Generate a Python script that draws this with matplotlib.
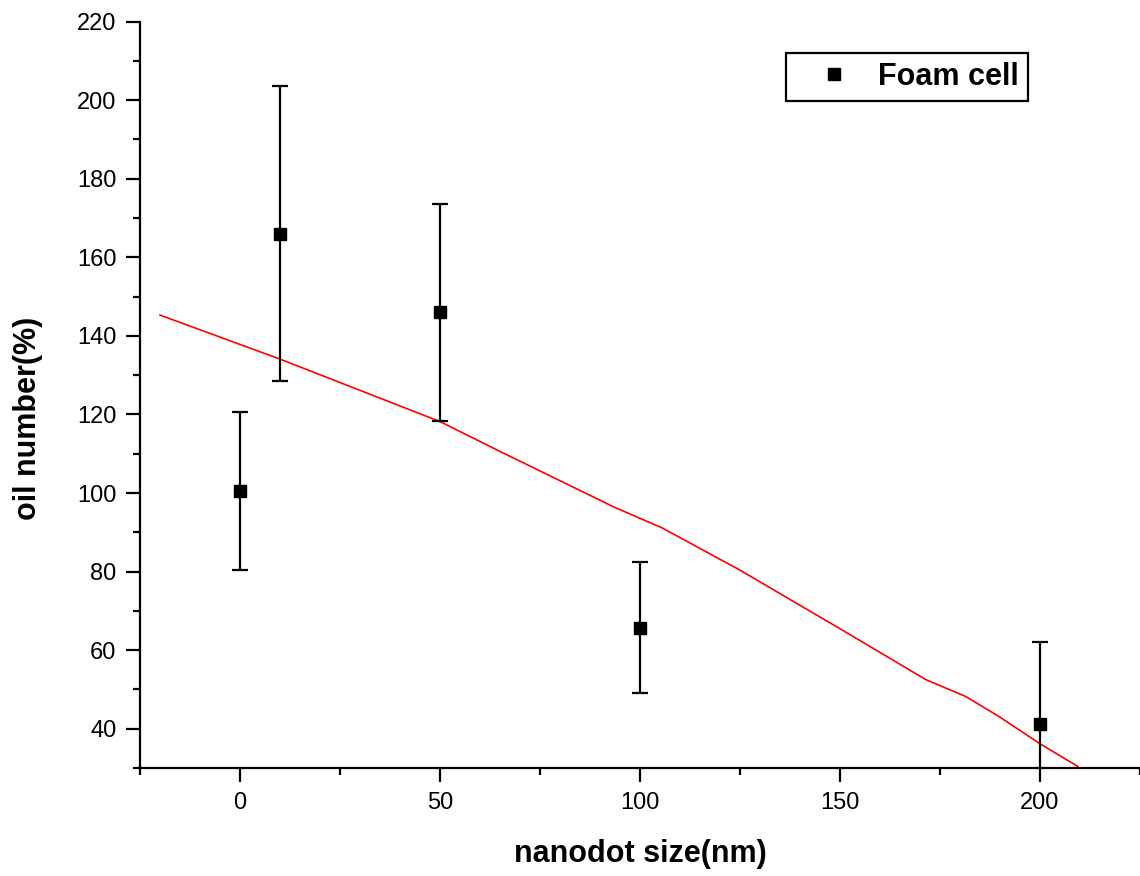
import matplotlib.pyplot as plt
from matplotlib.lines import Line2D
from matplotlib.ticker import MultipleLocator

plt.rcParams['font.family'] = ['Liberation Sans', 'DejaVu Sans']

# measured points (nanodot size, oil number, error)
size_nm = [0, 10, 50, 100, 200]
oil_num = [100.5, 166.0, 146.0, 65.7, 41.2]
oil_err = [20.0, 37.5, 27.6, 16.7, 21.0]

# fitted red curve
fit_x = [-20, 10, 50, 65, 93.6, 105.6, 124.8, 149.8, 171.5, 181.5, 189.8, 200, 209.5]
fit_y = [145.3, 134.1, 118.2, 110.6, 96.4, 91.1, 80.5, 65.6, 52.5, 48.2, 43.1, 36.2, 30.4]

fig = plt.figure(figsize=(11.4, 8.76), dpi=100)
ax = fig.add_axes([0.1228, 0.1233, 0.877, 0.852])

ax.plot(fit_x, fit_y, color='red', lw=1.2)
ax.errorbar(size_nm, oil_num, yerr=oil_err, fmt='s', color='black',
            markersize=9, elinewidth=1.6, capsize=6, capthick=1.6)

ax.set_xlim(-25, 225)
ax.set_ylim(30, 220)
ax.set_xticks([0, 50, 100, 150, 200])
ax.xaxis.set_minor_locator(MultipleLocator(25))
ax.set_yticks(range(40, 221, 20))
ax.yaxis.set_minor_locator(MultipleLocator(10))

for s in ['top', 'right']:
    ax.spines[s].set_visible(False)
for s in ['left', 'bottom']:
    ax.spines[s].set_linewidth(1.6)

ax.tick_params(which='major', direction='out', length=10, width=1.6, labelsize=17, pad=7)
ax.tick_params(which='minor', direction='out', length=5, width=1.6)

ax.set_xlabel('nanodot size(nm)', fontsize=22, fontweight='bold', labelpad=18)
ax.set_ylabel('oil number(%)', fontsize=22, fontweight='bold')
ax.yaxis.set_label_coords(-0.097, 0.469)

handle = Line2D([], [], marker='s', color='black', linestyle='none', markersize=9)
leg = ax.legend([handle], ['Foam cell'], loc='upper right', bbox_to_anchor=(0.888, 0.958),
                frameon=True, fancybox=False, edgecolor='black', framealpha=1,
                prop={'size': 22, 'weight': 'bold'}, borderpad=0.3, borderaxespad=0,
                handlelength=2.55, handletextpad=0.15)
leg.get_frame().set_linewidth(1.6)

fig.savefig('out.png', dpi=100)
